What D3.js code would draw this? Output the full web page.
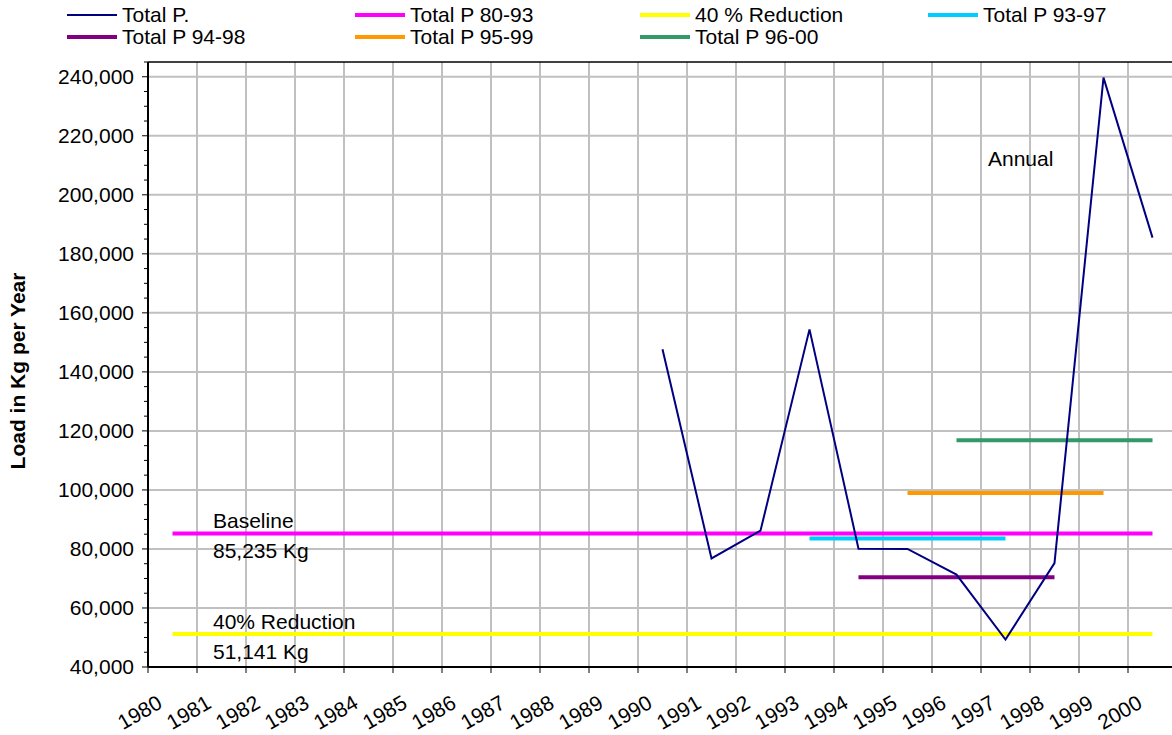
<!DOCTYPE html>
<html>
<head>
<meta charset="utf-8">
<script src="https://cdn.jsdelivr.net/npm/d3@7"></script>
<style>
  html, body { margin: 0; padding: 0; background: #fff; }
  svg { display: block; font-family: "Liberation Sans", Arial, sans-serif; }
</style>
</head>
<body>
<svg id="chart" width="1172" height="735"></svg>
<script>
// ---- data ----
const years = ["1980","1981","1982","1983","1984","1985","1986","1987","1988","1989","1990",
               "1991","1992","1993","1994","1995","1996","1997","1998","1999","2000"];
const annualYears = ["1990","1991","1992","1993","1994","1995","1996","1997","1998","1999","2000"];
const annualValues = [147700, 76800, 86200, 154400, 80100, 80000, 71300, 49300, 75200, 239700, 185500];

const periodNames  = ["Total P 80-93", "40 % Reduction", "Total P 93-97", "Total P 94-98", "Total P 95-99", "Total P 96-00"];
const periodStart  = ["1980", "1980", "1993", "1994", "1995", "1996"];
const periodEnd    = ["2000", "2000", "1997", "1998", "1999", "2000"];
const periodValues = [85235, 51141, 83500, 70400, 99000, 116800];

const yTicks = [40000, 60000, 80000, 100000, 120000, 140000, 160000, 180000, 200000, 220000, 240000];
const legendNames = ["Total P.", "Total P 80-93", "40 % Reduction", "Total P 93-97", "Total P 94-98", "Total P 95-99", "Total P 96-00"];

// ---- styles ----
const colors = {
  "Total P.": "#000080",
  "Total P 80-93": "#FF00FF",
  "40 % Reduction": "#FFFF00",
  "Total P 93-97": "#00CCFF",
  "Total P 94-98": "#800080",
  "Total P 95-99": "#FF9900",
  "Total P 96-00": "#339966"
};
const FS = 21;

const svg = d3.select("#chart");
const L = 148, R = 1177, T = 62, B = 667;

const x = d3.scaleBand().domain(years).range([L, R]).padding(0);
const cx = d => x(d) + x.bandwidth() / 2;
const y = d3.scaleLinear().domain([40000, 245000]).range([B, T]);

// gridlines
const grid = svg.append("g");
grid.selectAll("line.h").data(yTicks.slice(1)).enter().append("line")
  .attr("x1", L).attr("x2", R).attr("y1", d => y(d)).attr("y2", d => y(d))
  .attr("stroke", "#c0c0c0").attr("stroke-width", 2);
grid.selectAll("line.v").data(years.slice(1)).enter().append("line")
  .attr("x1", d => x(d)).attr("x2", d => x(d)).attr("y1", T).attr("y2", B)
  .attr("stroke", "#c0c0c0").attr("stroke-width", 2);

// top frame
svg.append("line").attr("x1", L).attr("x2", R).attr("y1", T).attr("y2", T)
  .attr("stroke", "#000").attr("stroke-width", 1.5);

// y axis
const minorTicks = d3.range(40000, 245001, 5000).filter(v => v % 20000 !== 0);
svg.append("g").selectAll("line").data(minorTicks).enter().append("line")
  .attr("x1", L - 4).attr("x2", L).attr("y1", d => y(d)).attr("y2", d => y(d))
  .attr("stroke", "#000").attr("stroke-width", 1);
svg.append("g").selectAll("line").data(yTicks).enter().append("line")
  .attr("x1", L - 6).attr("x2", L).attr("y1", d => y(d)).attr("y2", d => y(d))
  .attr("stroke", "#000").attr("stroke-width", 1);
svg.append("g").selectAll("text").data(yTicks).enter().append("text")
  .attr("x", L - 14).attr("y", d => y(d)).attr("dy", "0.35em")
  .attr("text-anchor", "end").attr("font-size", FS).attr("fill", "#000")
  .text(d3.format(","));
svg.append("line").attr("x1", L).attr("x2", L).attr("y1", T).attr("y2", B)
  .attr("stroke", "#000").attr("stroke-width", 2);

// x axis
svg.append("g").selectAll("line").data(years).enter().append("line")
  .attr("x1", d => x(d)).attr("x2", d => x(d)).attr("y1", B).attr("y2", B + 6)
  .attr("stroke", "#000").attr("stroke-width", 1);
svg.append("g").selectAll("text").data(years).enter().append("text")
  .attr("text-anchor", "end").attr("font-size", FS).attr("fill", "#000")
  .attr("transform", d => `translate(${cx(d) - 9},${B + 40}) rotate(-30)`)
  .text(d => d);
svg.append("line").attr("x1", L).attr("x2", R).attr("y1", B).attr("y2", B)
  .attr("stroke", "#000").attr("stroke-width", 2);

// period lines
periodNames.forEach((name, i) => {
  const pts = [[periodStart[i], periodValues[i]], [periodEnd[i], periodValues[i]]];
  svg.append("path")
    .attr("d", d3.line().x(p => cx(p[0])).y(p => y(p[1]))(pts))
    .attr("stroke", colors[name]).attr("stroke-width", 4).attr("fill", "none");
});

// annual line
svg.append("path")
  .attr("d", d3.line().x(d => cx(d[0])).y(d => y(d[1]))(annualYears.map((yr, i) => [yr, annualValues[i]])))
  .attr("stroke", colors["Total P."]).attr("stroke-width", 2).attr("fill", "none")
  .attr("stroke-linejoin", "miter");

// annotations
const ann = [
  ["Annual", 988, 166],
  ["Baseline", 213, 528],
  ["85,235 Kg", 213, 558],
  ["40% Reduction", 213, 629],
  ["51,141 Kg", 213, 659]
];
svg.append("g").selectAll("text").data(ann).enter().append("text")
  .attr("x", d => d[1]).attr("y", d => d[2]).attr("font-size", FS).attr("fill", "#000")
  .text(d => d[0]);

// y title
svg.append("text")
  .attr("transform", "translate(25,371) rotate(-90)")
  .attr("text-anchor", "middle").attr("font-size", 21).attr("font-weight", "bold")
  .text("Load in Kg per Year");

// legend
const legCols = [67, 355, 640, 928];
const legRows = [15, 37];
const leg = svg.append("g");
legendNames.forEach((name, i) => {
  const col = i % 4, row = Math.floor(i / 4);
  const lx = legCols[col], ly = legRows[row];
  leg.append("line").attr("x1", lx).attr("x2", lx + 50).attr("y1", ly).attr("y2", ly)
    .attr("stroke", colors[name]).attr("stroke-width", name === "Total P." ? 2 : 4);
  leg.append("text").attr("x", lx + 55).attr("y", ly).attr("dy", "0.35em")
    .attr("font-size", FS).attr("fill", "#000").text(name);
});
</script>
</body>
</html>
